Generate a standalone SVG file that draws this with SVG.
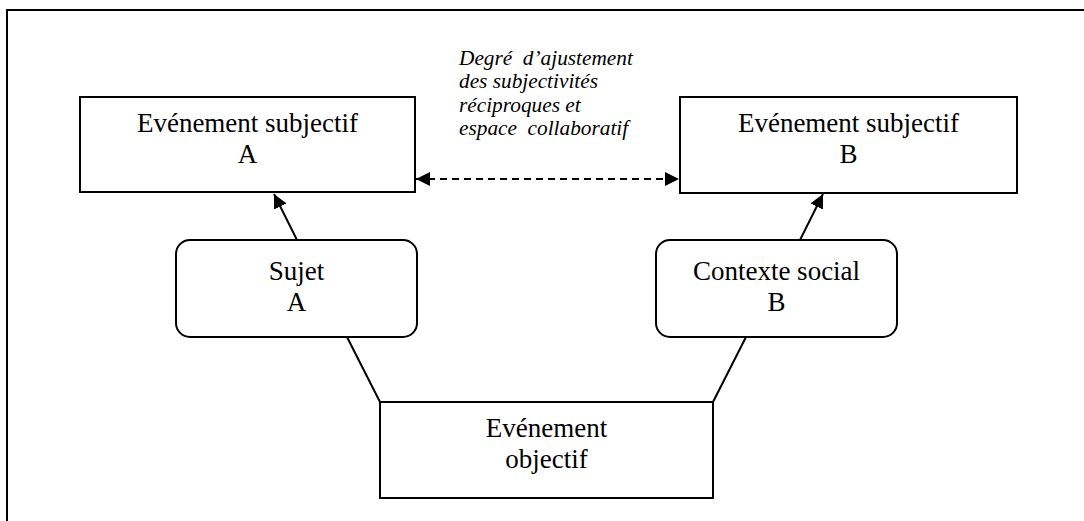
<svg xmlns="http://www.w3.org/2000/svg" width="1084" height="521" viewBox="0 0 1084 521">
  <style>
    .box { fill: #ffffff; stroke: #000000; stroke-width: 2; }
    .lbl { font-size: 27px; fill: #000000; text-anchor: middle; }
    .note { font-size: 21.3px; font-style: italic; fill: #000000; white-space: pre; }
    .link { stroke: #000000; stroke-width: 2; fill: none; }
    .dash { stroke: #000000; stroke-width: 2; fill: none; stroke-dasharray: 7 5; }
  </style>
  <defs>
    <marker id="head" viewBox="0 0 10 10" refX="10" refY="5" markerWidth="7" markerHeight="7" markerUnits="strokeWidth" orient="auto-start-reverse">
      <path d="M0,0 L10,5 L0,10 Z" fill="#000000"/>
    </marker>
  </defs>

  <rect width="1084" height="521" fill="#ffffff"/>
  <!-- outer frame (top and left edges visible) -->
  <rect x="7" y="10" width="1100" height="540" fill="none" stroke="#000000" stroke-width="2"/>

  <g id="connectors">
    <line class="link" x1="297" y1="240" x2="274" y2="194" marker-end="url(#head)"/>
    <line class="link" x1="800" y1="240" x2="823" y2="194" marker-end="url(#head)"/>
    <line class="link" x1="347" y1="337" x2="380" y2="402"/>
    <line class="link" x1="746" y1="337" x2="713" y2="402"/>
    <line class="dash" x1="416" y1="179" x2="679" y2="179" marker-start="url(#head)" marker-end="url(#head)"/>
  </g>

  <g id="note" font-family="'Liberation Serif', 'Times New Roman', 'DejaVu Serif', serif">
    <text class="note" x="459" y="65">Degré  d’ajustement</text>
    <text class="note" x="459" y="88">des subjectivités</text>
    <text class="note" x="459" y="112">réciproques et</text>
    <text class="note" x="459" y="135">espace  collaboratif</text>
  </g>

  <g id="event-subjective-a" font-family="'Liberation Serif', 'Times New Roman', 'DejaVu Serif', serif">
    <rect class="box" x="80" y="97" width="335" height="95"/>
    <text class="lbl" x="247.5" y="132">Evénement subjectif</text>
    <text class="lbl" x="247.5" y="163">A</text>
  </g>

  <g id="event-subjective-b" font-family="'Liberation Serif', 'Times New Roman', 'DejaVu Serif', serif">
    <rect class="box" x="680" y="97" width="337" height="96"/>
    <text class="lbl" x="848.5" y="132">Evénement subjectif</text>
    <text class="lbl" x="848.5" y="163">B</text>
  </g>

  <g id="subject-a" font-family="'Liberation Serif', 'Times New Roman', 'DejaVu Serif', serif">
    <rect class="box" x="176" y="240" width="241" height="97" rx="14" ry="14"/>
    <text class="lbl" x="296.5" y="280">Sujet</text>
    <text class="lbl" x="296.5" y="311">A</text>
  </g>

  <g id="social-context-b" font-family="'Liberation Serif', 'Times New Roman', 'DejaVu Serif', serif">
    <rect class="box" x="656" y="240" width="241" height="97" rx="14" ry="14"/>
    <text class="lbl" x="776.5" y="280">Contexte social</text>
    <text class="lbl" x="776.5" y="311">B</text>
  </g>

  <g id="event-objective" font-family="'Liberation Serif', 'Times New Roman', 'DejaVu Serif', serif">
    <rect class="box" x="380" y="402" width="333" height="96"/>
    <text class="lbl" x="546.5" y="437">Evénement</text>
    <text class="lbl" x="546.5" y="468">objectif</text>
  </g>
</svg>
